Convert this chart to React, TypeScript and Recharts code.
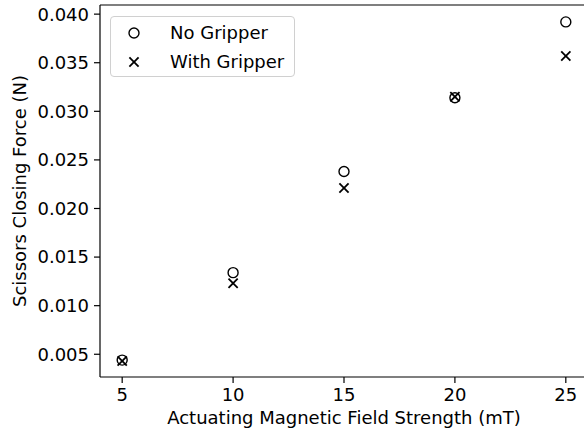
import React from 'react';
import {
  ScatterChart,
  Scatter,
  XAxis,
  YAxis,
  Legend,
  ReferenceLine,
  Label,
} from 'recharts';

// page has an 8px body margin by default; drop it so the plot sits flush
document.body.style.margin = '0';
document.body.style.overflow = 'hidden';

const fieldStrength = [5, 10, 15, 20, 25];
const noGripper = [0.0044, 0.0134, 0.0238, 0.0314, 0.0392];
const withGripper = [0.0043, 0.0123, 0.0221, 0.0315, 0.0357];

const xTicks = [5, 10, 15, 20, 25];
const yTicks = [0.005, 0.01, 0.015, 0.02, 0.025, 0.03, 0.035, 0.04];

const xDomain: [number, number] = [4, 26];
const yDomain: [number, number] = [0.00266, 0.04094];

const noGripperPts = fieldStrength.map((x, i) => ({ x, y: noGripper[i] }));
const withGripperPts = fieldStrength.map((x, i) => ({ x, y: withGripper[i] }));

const FONT = "'DejaVu Sans', sans-serif";

function CircleMark({ cx, cy }: any) {
  return <circle cx={cx} cy={cy} r={5} fill="none" stroke="#000" strokeWidth={1.4} />;
}

function CrossMark({ cx, cy }: any) {
  const s = 4.6;
  return (
    <g stroke="#000" strokeWidth={1.8}>
      <line x1={cx - s} y1={cy - s} x2={cx + s} y2={cy + s} />
      <line x1={cx - s} y1={cy + s} x2={cx + s} y2={cy - s} />
    </g>
  );
}

function LegendBox({ payload }: any) {
  const items = payload || [];
  return (
    <div
      style={{
        position: 'relative',
        width: 185,
        height: 61,
        boxSizing: 'border-box',
        border: '1px solid #d0d0d0',
        borderRadius: 4,
        background: 'rgba(255,255,255,0.8)',
        fontFamily: FONT,
      }}
    >
      {items.map((entry: any, i: number) => (
        <div
          key={entry.value}
          style={{
            position: 'absolute',
            left: 0,
            top: 5 + i * 28.5,
            height: 22,
            display: 'flex',
            alignItems: 'center',
          }}
        >
          <svg width={46} height={22} style={{ display: 'block' }}>
            {entry.value === 'No Gripper' ? (
              <CircleMark cx={23} cy={11} />
            ) : (
              <CrossMark cx={23} cy={11} />
            )}
          </svg>
          <span style={{ marginLeft: 13, fontSize: 18, color: '#000', lineHeight: '22px' }}>
            {entry.value}
          </span>
        </div>
      ))}
    </div>
  );
}

export default function App() {
  return (
    <div style={{ width: 584, height: 430, overflow: 'hidden', background: '#fff', fontFamily: FONT }}>
      {/* plot frame runs to x=588, so the right spine sits just past the visible edge */}
      <ScatterChart width={620} height={430} margin={{ top: 5, right: 32, bottom: 0, left: 0 }}>
        <XAxis
          type="number"
          dataKey="x"
          domain={xDomain}
          ticks={xTicks}
          height={53}
          tickSize={6}
          tickMargin={5}
          stroke="#000"
          strokeWidth={1.2}
          tick={{ fill: '#000', fontSize: 18 }}
        >
          <Label
            value="Actuating Magnetic Field Strength (mT)"
            position="insideBottom"
            offset={6}
            style={{ fill: '#000', fontSize: 18 }}
          />
        </XAxis>
        <YAxis
          type="number"
          dataKey="y"
          domain={yDomain}
          ticks={yTicks}
          width={100}
          tickSize={6}
          tickMargin={5}
          stroke="#000"
          strokeWidth={1.2}
          tickFormatter={(v: number) => v.toFixed(3)}
          tick={{ fill: '#000', fontSize: 18 }}
        >
          <Label
            value="Scissors Closing Force (N)"
            angle={-90}
            position="insideLeft"
            offset={20}
            style={{ fill: '#000', fontSize: 18, textAnchor: 'middle' }}
          />
        </YAxis>
        <ReferenceLine y={yDomain[1]} stroke="#000" strokeWidth={1.2} />
        <ReferenceLine x={xDomain[1]} stroke="#000" strokeWidth={1.2} />
        <Legend
          layout="vertical"
          align="center"
          verticalAlign="middle"
          wrapperStyle={{ left: 110, top: 16, width: 185 }}
          content={<LegendBox />}
        />
        <Scatter
          name="No Gripper"
          data={noGripperPts}
          shape={(p: any) => <CircleMark cx={p.cx} cy={p.cy} />}
          isAnimationActive={false}
        />
        <Scatter
          name="With Gripper"
          data={withGripperPts}
          shape={(p: any) => <CrossMark cx={p.cx} cy={p.cy} />}
          isAnimationActive={false}
        />
      </ScatterChart>
    </div>
  );
}
